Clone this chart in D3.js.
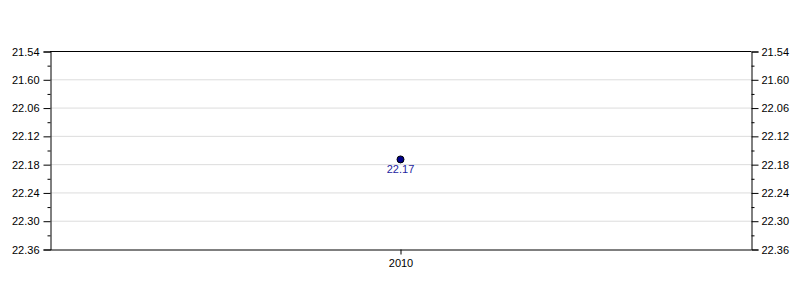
<!DOCTYPE html>
<html>
<head>
<meta charset="utf-8">
<script src="https://cdn.jsdelivr.net/npm/d3@7"></script>
<style>
  body { margin: 0; background: #fff; }
  text { font-family: Arial, "Liberation Sans", sans-serif; }
</style>
</head>
<body>
<svg id="chart"></svg>
<script>
// Данные
const years = ["2010"];
const times = ["22.17"];
const tickLabels = ["21.54", "21.60", "22.06", "22.12", "22.18", "22.24", "22.30", "22.36"];

// мин.сек -> секунды
const toSec = s => { const [m, sec] = s.split("."); return +m * 60 + +sec; };

const width = 800, height = 300;
const margin = { top: 51, right: 49, bottom: 51, left: 50 };

const svg = d3.select("#chart").attr("width", width).attr("height", height);

const tickVals = tickLabels.map(toSec);
const yScale = d3.scaleLinear()
    .domain([tickVals[0], tickVals[tickVals.length - 1]])
    .range([margin.top, height - margin.bottom]);

const xScale = d3.scalePoint()
    .domain(years)
    .range([margin.left, width - margin.right])
    .padding(0.5);

const minorVals = tickVals.slice(1).map((v, i) => (v + tickVals[i]) / 2);

// сетка
svg.append("g")
    .selectAll("line")
    .data(tickVals.slice(1, -1))
    .join("line")
    .attr("x1", margin.left).attr("x2", width - margin.right)
    .attr("y1", d => yScale(d) + 0.5).attr("y2", d => yScale(d) + 0.5)
    .attr("stroke", "#dcdcdc");

// рамка сверху
svg.append("line")
    .attr("x1", margin.left).attr("x2", width - margin.right + 0.5)
    .attr("y1", margin.top + 0.5).attr("y2", margin.top + 0.5)
    .attr("stroke", "#000");

const fmt = d => tickLabels[tickVals.indexOf(d)];

// левая ось
const left = svg.append("g")
    .attr("transform", `translate(${margin.left + 0.5}, 0.5)`)
    .call(d3.axisLeft(yScale).tickValues(tickVals).tickFormat(fmt).tickSize(7).tickPadding(4));
svg.append("g")
    .attr("transform", `translate(${margin.left + 0.5}, 0.5)`)
    .call(d3.axisLeft(yScale).tickValues(minorVals).tickFormat("").tickSize(3))
    .select(".domain").remove();

// правая ось
const right = svg.append("g")
    .attr("transform", `translate(${width - margin.right + 0.5}, 0.5)`)
    .call(d3.axisRight(yScale).tickValues(tickVals).tickFormat(fmt).tickSize(7).tickPadding(3));
svg.append("g")
    .attr("transform", `translate(${width - margin.right + 0.5}, 0.5)`)
    .call(d3.axisRight(yScale).tickValues(minorVals).tickFormat("").tickSize(3))
    .select(".domain").remove();

// нижняя ось
const bottom = svg.append("g")
    .attr("transform", `translate(0, ${height - margin.bottom + 0.5})`)
    .call(d3.axisBottom(xScale).tickSize(5).tickPadding(5).tickSizeOuter(0));

svg.selectAll(".tick text").attr("font-size", 11).attr("fill", "#000").attr("font-family", "Arial, 'Liberation Sans', sans-serif");
svg.selectAll(".domain").attr("stroke", "#000");

// точки
svg.append("g")
    .selectAll("circle")
    .data(years)
    .join("circle")
    .attr("cx", (d, i) => xScale(d))
    .attr("cy", (d, i) => yScale(toSec(times[i])))
    .attr("r", 3.5)
    .attr("fill", "#00008b")
    .attr("stroke", "#000")
    .attr("stroke-width", 1);

svg.append("g")
    .selectAll("text")
    .data(years)
    .join("text")
    .attr("x", (d, i) => xScale(d))
    .attr("y", (d, i) => yScale(toSec(times[i])) + 14)
    .attr("text-anchor", "middle")
    .attr("font-size", 11)
    .attr("fill", "#1f1fa0")
    .text((d, i) => times[i]);
</script>
</body>
</html>
